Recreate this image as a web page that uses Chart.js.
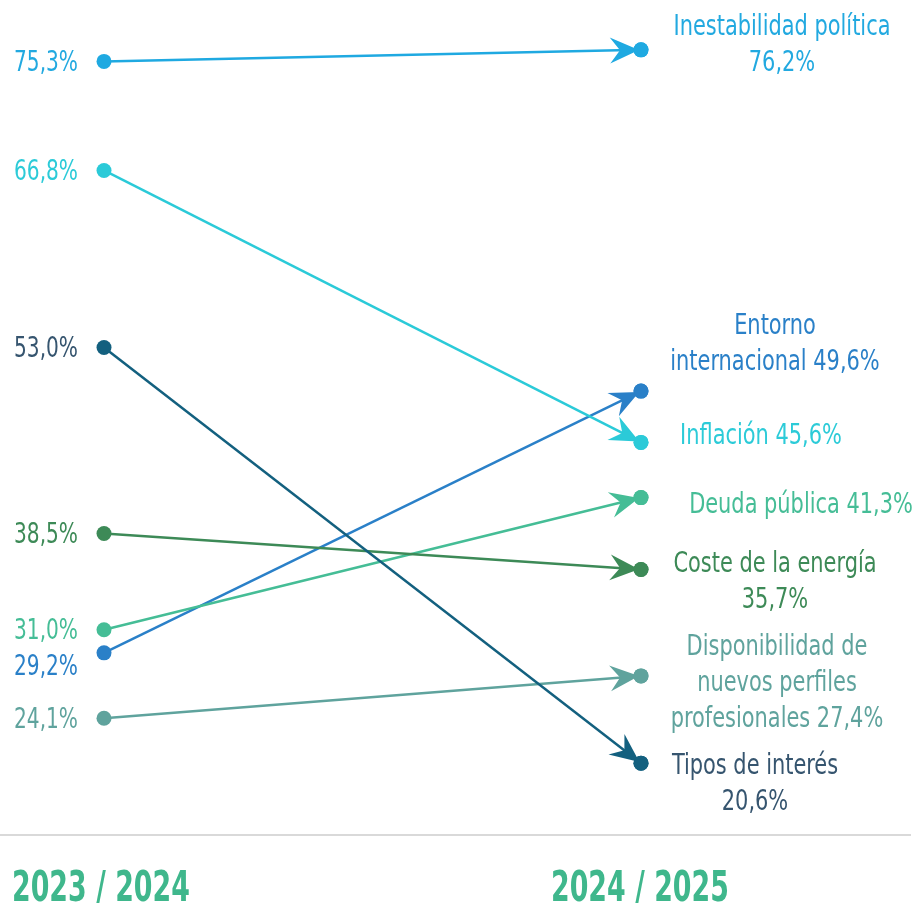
<!DOCTYPE html>
<html><head><meta charset="utf-8">
<script src="https://cdn.jsdelivr.net/npm/chart.js@4"></script>
<style>html,body{margin:0;padding:0;background:#fff}#wrap{width:915px;height:903px;position:relative}</style>
</head><body><div id="wrap"><canvas id="c" width="915" height="903"></canvas></div>
<script>
// ---- data ----
const periods = ["2023 / 2024", "2024 / 2025"];
const categories = ["Inestabilidad política", "Inflación", "Tipos de interés", "Coste de la energía", "Deuda pública", "Entorno internacional", "Disponibilidad de nuevos perfiles profesionales"];
const values2023 = [75.3, 66.8, 53.0, 38.5, 31.0, 29.2, 24.1];
const values2024 = [76.2, 45.6, 20.6, 35.7, 41.3, 49.6, 27.4];

// ---- styles ----
const colors = ["#1fa9e1", "#2bcad8", "#13607f", "#3d8a57", "#45bd96", "#2a80c8", "#5fa39d"];
const textColors = ["#22a9e0", "#2ccbd8", "#36556f", "#3d8a57", "#45bd96", "#2a80c8", "#5fa39d"];
const rightLabelLines = [
  ["Inestabilidad política", "76,2%"],
  ["Inflación 45,6%"],
  ["Tipos de interés", "20,6%"],
  ["Coste de la energía", "35,7%"],
  ["Deuda pública 41,3%"],
  ["Entorno", "internacional 49,6%"],
  ["Disponibilidad de", "nuevos perfiles", "profesionales 27,4%"]
];
const rightLabelX = [782, 761, 755, 775, 801, 775, 777];
const rightLabelTop = [28, 437, 767, 565, 506, 327, 648]; // center of first line
const leftLabelDY = [0, 0, 0, 0, 0, 13, 0];
const FONT = '"DejaVu Sans Condensed", "Liberation Sans", sans-serif';

function fmt(v){ return v.toFixed(1).replace('.', ',') + '%'; }

function narrowText(ctx, text, x, y, align, sx) {
  const w = ctx.measureText(text).width * sx;
  let left = x;
  if (align === 'center') left = x - w / 2;
  else if (align === 'right') left = x - w;
  ctx.save();
  ctx.textAlign = 'left';
  ctx.translate(left, y);
  ctx.scale(sx, 1);
  ctx.fillText(text, 0, 0);
  ctx.restore();
}

const datasets = categories.map((c, i) => ({
  label: c,
  data: [{x: 0, y: values2023[i]}, {x: 1, y: values2024[i]}],
  borderColor: colors[i],
  backgroundColor: colors[i],
  borderWidth: 2.5,
  pointRadius: 7.5,
  pointHoverRadius: 7.5,
  pointBorderWidth: 0,
  showLine: true,
  clip: false
}));

const decor = {
  id: 'decor',
  afterDatasetsDraw(chart) {
    const ctx = chart.ctx;
    const xs = chart.scales.x, ys = chart.scales.y;
    chart.data.datasets.forEach((ds, i) => {
      const x0 = xs.getPixelForValue(0), y0 = ys.getPixelForValue(values2023[i]);
      const x1 = xs.getPixelForValue(1), y1 = ys.getPixelForValue(values2024[i]);
      const a = Math.atan2(y1 - y0, x1 - x0);
      ctx.save();
      ctx.translate(x1, y1);
      ctx.rotate(a);
      ctx.beginPath();
      ctx.moveTo(-2, 0);
      ctx.lineTo(-31, -13);
      ctx.lineTo(-21, 0);
      ctx.lineTo(-31, 13);
      ctx.closePath();
      ctx.fillStyle = colors[i];
      ctx.fill();
      ctx.restore();
      ctx.beginPath();
      ctx.arc(x1, y1, 7.5, 0, Math.PI * 2);
      ctx.fillStyle = colors[i];
      ctx.fill();
    });
    ctx.save();
    ctx.textBaseline = 'middle';
    ctx.font = '28px ' + FONT;
    values2023.forEach((v, i) => {
      ctx.fillStyle = textColors[i];
      narrowText(ctx, fmt(v), 78, ys.getPixelForValue(v) + 2 + leftLabelDY[i], 'right', 0.8);
    });
    ctx.font = '28px ' + FONT;
    rightLabelLines.forEach((lines, i) => {
      ctx.fillStyle = textColors[i];
      lines.forEach((t, k) => narrowText(ctx, t, rightLabelX[i], rightLabelTop[i] + k * 36, 'center', 0.83));
    });
    ctx.fillStyle = '#d9d9d9';
    ctx.fillRect(0, 834, 911, 2);
    ctx.font = 'bold 42px ' + FONT;
    ctx.fillStyle = '#3fb78c';
    ctx.textBaseline = 'alphabetic';
    narrowText(ctx, periods[0], 12, 901, 'left', 0.71);
    narrowText(ctx, periods[1], 551, 901, 'left', 0.71);
    ctx.restore();
  }
};

new Chart(document.getElementById('c'), {
  type: 'scatter',
  data: { datasets },
  options: {
    responsive: false,
    animation: false,
    layout: { padding: { left: 104, right: 274, top: 4, bottom: 68 } },
    plugins: { legend: { display: false }, tooltip: { enabled: false } },
    scales: {
      x: { type: 'linear', min: 0, max: 1, display: false },
      y: { type: 'linear', min: 15, max: 79.5, display: false }
    }
  },
  plugins: [decor]
});
</script></body></html>
